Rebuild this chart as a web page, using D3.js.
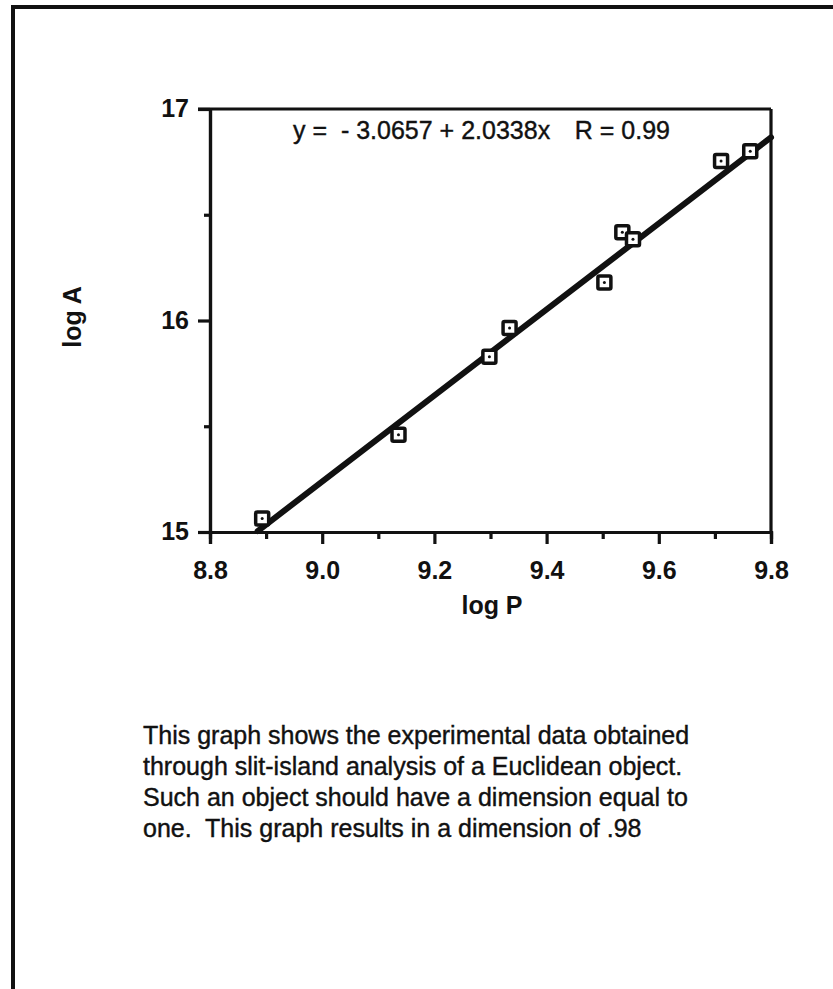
<!DOCTYPE html>
<html>
<head>
<meta charset="utf-8">
<script src="https://cdn.jsdelivr.net/npm/d3@7"></script>
<style>
  html, body { margin: 0; padding: 0; background: #fff; }
  svg { display: block; }
  text { font-family: "Liberation Sans", Arial, Helvetica, sans-serif; fill: #111; }
</style>
</head>
<body>
<svg id="chart" width="833" height="989"></svg>
<script>
// ---- data ----
const logP = [8.893, 9.136, 9.298, 9.334, 9.503, 9.535, 9.554, 9.711, 9.763];
const logA = [15.064, 15.46, 15.829, 15.965, 16.18, 16.417, 16.384, 16.754, 16.80];
const fitIntercept = -3.0657;
const fitSlope = 2.0338;
const fitRange = [8.885, 9.8];
const xTicks = [8.8, 9.0, 9.2, 9.4, 9.6, 9.8];
const xMinorTicks = [8.9, 9.1, 9.3, 9.5, 9.7];
const yTicks = [15, 16, 17];
const yMinorTicks = [15.5, 16.5];
const equationParts = ["y =  - 3.0657 + 2.0338x", "R = 0.99"];
const xLabel = "log P";
const yLabel = "log A";
const caption = [
  "This graph shows the experimental data obtained",
  "through slit-island analysis of a Euclidean object.",
  "Such an object should have a dimension equal to",
  "one.  This graph results in a dimension of .98"
];

// ---- layout ----
const svg = d3.select("#chart");
const pL = 210, pR = 771, pT = 109, pB = 532;
const x = d3.scaleLinear().domain([8.8, 9.8]).range([pL, pR]);
const y = d3.scaleLinear().domain([15, 17]).range([pB, pT]);

// page frame
svg.append("path")
  .attr("d", "M13,989 L13,7 L833,7")
  .attr("fill", "none").attr("stroke", "#111").attr("stroke-width", 4);

// plot frame (top and right)
svg.append("line").attr("x1", pL - 12).attr("x2", pR).attr("y1", pT).attr("y2", pT)
  .attr("stroke", "#111").attr("stroke-width", 3.2);
svg.append("line").attr("x1", pR).attr("x2", pR).attr("y1", pT).attr("y2", pB)
  .attr("stroke", "#111").attr("stroke-width", 3.2);

// x axis
const xAxis = svg.append("g").attr("transform", `translate(0,${pB})`)
  .call(d3.axisBottom(x).tickValues(xTicks).tickFormat(d3.format(".1f")).tickSize(12).tickPadding(12));
const xMinor = svg.append("g").attr("transform", `translate(0,${pB})`)
  .call(d3.axisBottom(x).tickValues(xMinorTicks).tickFormat("").tickSize(7));
// y axis
const yAxis = svg.append("g").attr("transform", `translate(${pL},0)`)
  .call(d3.axisLeft(y).tickValues(yTicks).tickFormat(d3.format("d")).tickSize(12).tickPadding(9));
const yMinor = svg.append("g").attr("transform", `translate(${pL},0)`)
  .call(d3.axisLeft(y).tickValues(yMinorTicks).tickFormat("").tickSize(6));

[xAxis, xMinor, yAxis, yMinor].forEach(g => {
  g.select(".domain").attr("stroke", "#111").attr("stroke-width", 3.2);
  g.selectAll(".tick line").attr("stroke", "#111").attr("stroke-width", 3.2);
  g.selectAll(".tick text").attr("fill", "#111")
    .style("font-family", '"Liberation Sans", Arial, sans-serif')
    .style("font-size", "25px").style("font-weight", "bold");
});
xAxis.selectAll(".tick text").attr("dy", "0.9em");
yAxis.selectAll(".tick text").attr("dy", "0.3em");

// regression line
svg.append("line")
  .attr("x1", x(fitRange[0])).attr("y1", y(fitIntercept + fitSlope * fitRange[0]))
  .attr("x2", x(fitRange[1])).attr("y2", y(fitIntercept + fitSlope * fitRange[1]))
  .attr("stroke", "#111").attr("stroke-width", 6).attr("stroke-linecap", "round");

// data markers
const pts = logP.map((p, i) => ({ p, a: logA[i] }));
const mk = svg.append("g");
mk.selectAll("rect").data(pts).join("rect")
  .attr("x", d => x(d.p) - 6.5).attr("y", d => y(d.a) - 6.5)
  .attr("width", 13).attr("height", 13)
  .attr("fill", "#fff").attr("stroke", "#111").attr("stroke-width", 3.5).attr("rx", 1.5);
mk.selectAll("circle").data(pts).join("circle")
  .attr("cx", d => x(d.p)).attr("cy", d => y(d.a)).attr("r", 1.5).attr("fill", "#111");

// equation
svg.append("text").attr("x", 293).attr("y", 139)
  .style("font-size", "25px").attr("xml:space", "preserve")
  .attr("stroke", "#111").attr("stroke-width", 0.4)
  .text(equationParts[0]);
svg.append("text").attr("x", 670).attr("y", 139).attr("text-anchor", "end")
  .style("font-size", "25px").attr("xml:space", "preserve")
  .attr("stroke", "#111").attr("stroke-width", 0.4)
  .text(equationParts[1]);

// axis labels
svg.append("text").attr("x", 492).attr("y", 614)
  .attr("text-anchor", "middle").style("font-size", "25px").style("font-weight", "bold")
  .text(xLabel);
svg.append("text").attr("transform", "translate(81,317) rotate(-90)")
  .attr("text-anchor", "middle").style("font-size", "25px").style("font-weight", "bold")
  .text(yLabel);

// caption
svg.append("g").selectAll("text").data(caption).join("text")
  .attr("x", 143).attr("y", (d, i) => 744 + i * 31)
  .style("font-size", "25px").attr("xml:space", "preserve")
  .attr("stroke", "#111").attr("stroke-width", 0.4)
  .text(d => d);
</script>
</body>
</html>
